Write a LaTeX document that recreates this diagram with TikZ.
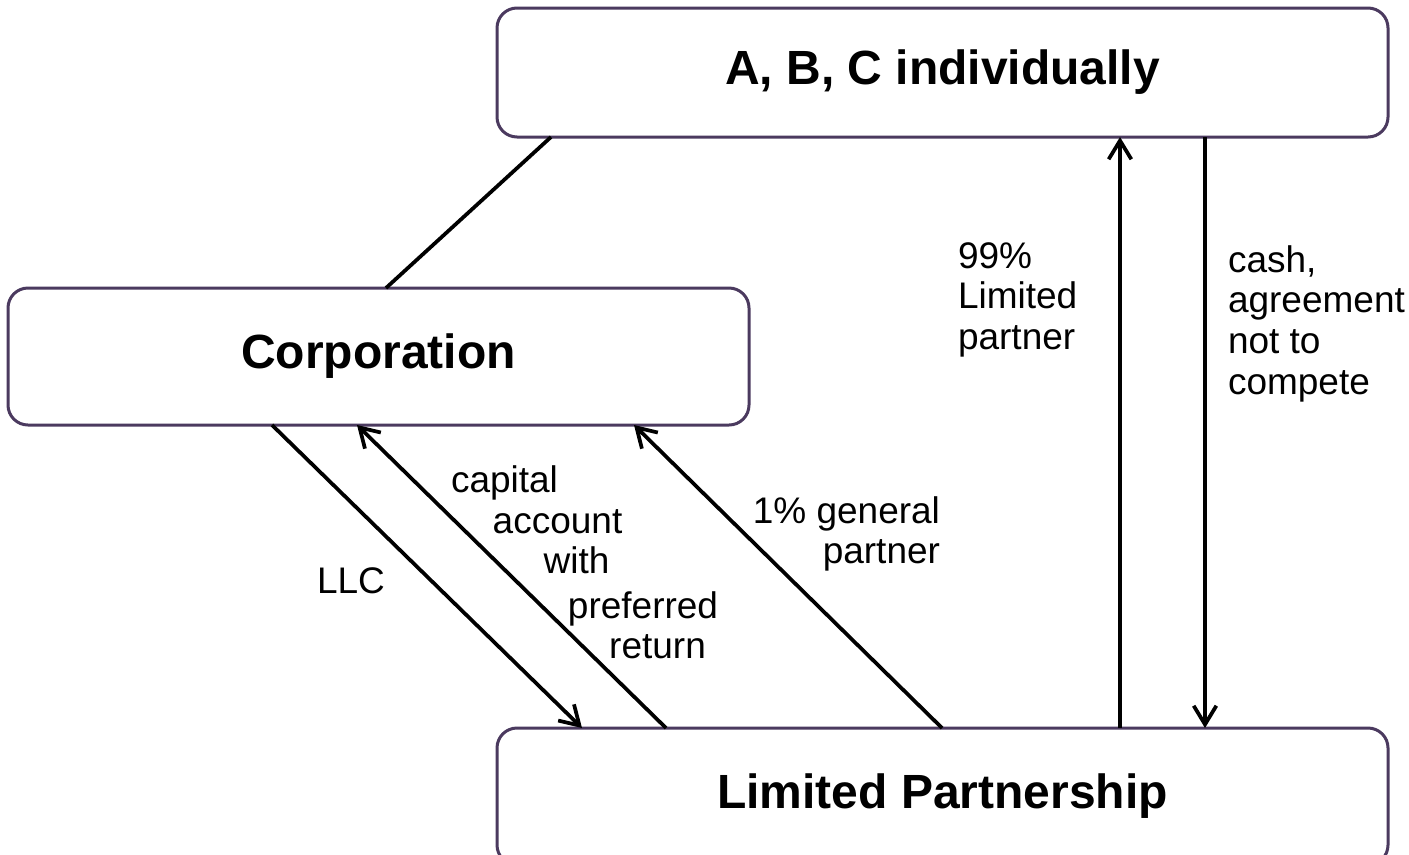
\documentclass[tikz,border=0pt]{standalone}
\usepackage{fontspec}
\setmainfont{Liberation Sans}
\usetikzlibrary{arrows.meta}
\definecolor{boxline}{RGB}{75,58,95}
\newcommand{\lbl}{\fontsize{27.75}{30.5}\selectfont}
\newcommand{\ttl}{\fontsize{36}{40}\selectfont\bfseries}
\tikzset{
  entity/.style={draw=boxline, line width=2.25pt, rounded corners=15pt,
    fill=white, inner sep=0pt, outer sep=0pt, font=\ttl},
  link/.style={draw=black, line width=2.8pt},
  flow/.style={link, -{Straight Barb[length=14pt, width=17pt, line width=2.8pt]}},
  tag/.style={inner sep=0pt, outer sep=0pt, font=\lbl}
}
\begin{document}
\begin{tikzpicture}[x=0.75pt, y=-0.75pt]
  \useasboundingbox (0,0) rectangle (1409,854);
  \clip (0,0) rectangle (1409,854);

  % entities
  \node[entity, minimum width=668.25pt, minimum height=96.75pt] (abc) at (942.5,72.5) {A, B, C individually};
  \node[entity, minimum width=555.75pt, minimum height=102.75pt] (corp) at (378.5,356.5) {Corporation};
  \node[entity, minimum width=668.25pt, minimum height=102.75pt] (lp) at (942.5,796.5) {Limited Partnership};

  % ownership links
  \draw[link] ([xshift=40.5pt]abc.south west) -- ([xshift=283.5pt]corp.north west);
  \draw[flow] ([xshift=198pt]corp.south west) -- ([xshift=63.75pt]lp.north west);
  \draw[flow] ([xshift=126.75pt]lp.north west) -- ([xshift=261.75pt]corp.south west);
  \draw[flow] ([xshift=333.75pt]lp.north west) -- ([xshift=469.5pt]corp.south west);
  \draw[flow] ([xshift=467.25pt]lp.north west) -- ([xshift=467.25pt]abc.south west);
  \draw[flow] ([xshift=531pt]abc.south west) -- ([xshift=531pt]lp.north west);

  % labels
  \node[tag, anchor=base west] (lpshare) at (958,268)
    {\vtop{\halign{#\hfil\cr 99\%\cr Limited\cr partner\cr}}};
  \node[tag, anchor=base west] (cash) at (1228,272)
    {\vtop{\halign{#\hfil\cr cash,\cr agreement\cr not to\cr compete\cr}}};
  \node[tag, anchor=base east] (gpshare) at (940,523)
    {\vtop{\halign{\hfil#\cr 1\% general\cr partner\cr}}};
  \node[tag, anchor=base west] (llc) at (317,593) {LLC};
  \node[tag, anchor=base] (cap1) at (504.5,492) {capital};
  \node[tag, anchor=base] (cap2) at (557.5,533) {account};
  \node[tag, anchor=base] (cap3) at (576.5,573) {with};
  \node[tag, anchor=base] (cap4) at (643,618) {preferred};
  \node[tag, anchor=base] (cap5) at (657.5,658) {return};
\end{tikzpicture}
\end{document}
